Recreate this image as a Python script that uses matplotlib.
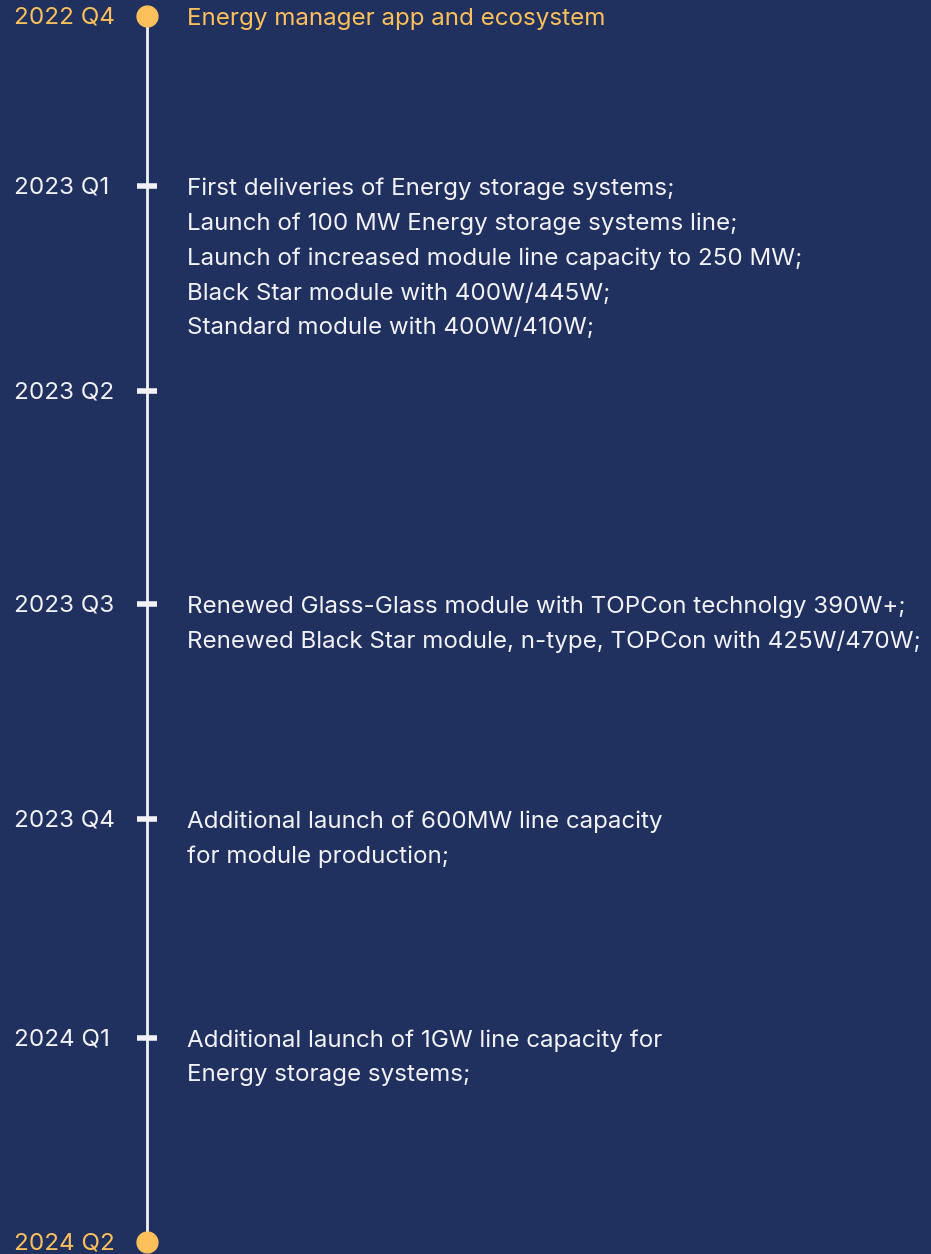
import matplotlib
matplotlib.use("Agg")
import matplotlib.pyplot as plt

# ---- data ----
quarters = ["2022 Q4", "2023 Q1", "2023 Q2", "2023 Q3", "2023 Q4", "2024 Q1", "2024 Q2"]
milestones = [
    ["Energy manager app and ecosystem"],
    ["First deliveries of Energy storage systems;",
     "Launch of 100 MW Energy storage systems line;",
     "Launch of increased module line capacity to 250 MW;",
     "Black Star module with 400W/445W;",
     "Standard module with 400W/410W;"],
    [],
    ["Renewed Glass-Glass module with TOPCon technolgy 390W+;",
     "Renewed Black Star module, n-type, TOPCon with 425W/470W;"],
    ["Additional launch of 600MW line capacity",
     "for module production;"],
    ["Additional launch of 1GW line capacity for",
     "Energy storage systems;"],
    [],
]
highlight = [True, False, False, False, False, False, True]

# ---- layout ----
W, H = 931, 1254
BG = "#20305f"
ORANGE = "#fec05a"
WHITE = "#f2f2f6"
row_y = [16, 186, 391, 604, 819, 1038, 1242]
x_line = 147
x_label = 14
x_text = 187
line_gap = 35
FONT = "Inter"
fs = 17.4

fig = plt.figure(figsize=(W / 100, H / 100), dpi=100, facecolor=BG)
ax = fig.add_axes([0, 0, 1, 1])
ax.set_facecolor(BG)
ax.set_xlim(0, W)
ax.set_ylim(H, 0)
ax.axis("off")

ax.plot([x_line, x_line], [row_y[0], row_y[-1]], color=WHITE, lw=2, zorder=1,
        solid_capstyle="butt")

for q, lines, hl, y in zip(quarters, milestones, highlight, row_y):
    col = ORANGE if hl else WHITE
    if hl:
        ax.plot([x_line], [y], "o", ms=15, color=ORANGE, mec=ORANGE, zorder=3)
    else:
        ax.plot([x_line - 10, x_line + 10], [y, y], color=WHITE, lw=4,
                solid_capstyle="butt", zorder=2)
    ax.text(x_label, y + 1.5, q, color=col, fontsize=fs, family=FONT,
            ha="left", va="center")
    for i, t in enumerate(lines):
        ax.text(x_text, y + 2.5 + i * line_gap, t, color=col, fontsize=fs,
                family=FONT, ha="left", va="center")

fig.savefig("out.png", dpi=100, facecolor=BG)
